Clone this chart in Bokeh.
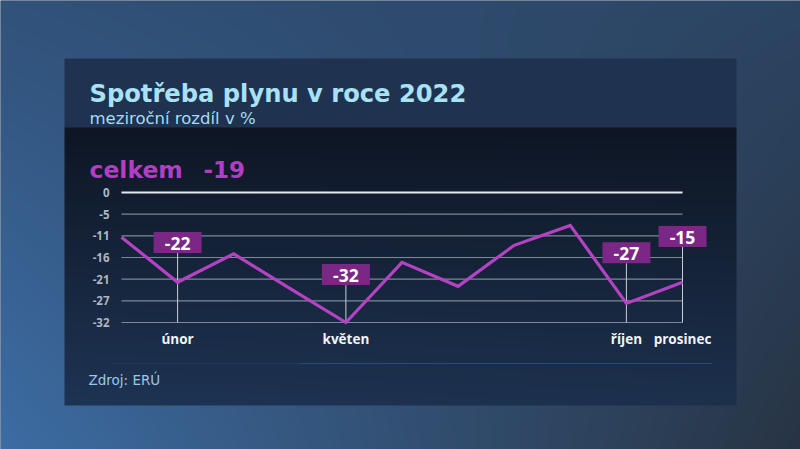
import numpy as np
from bokeh.plotting import figure
from bokeh.models import Range1d
from bokeh.core.properties import value
from bokeh.embed import file_html
from bokeh.resources import INLINE

# ---------------- data ----------------
months = ["leden", "únor", "březen", "duben", "květen", "červen",
          "červenec", "srpen", "září", "říjen", "prosinec"]
change = [-11.0, -22.1, -15.1, -23.6, -32.0, -17.2, -23.1, -13.0, -8.1, -27.3, -22.1]

y_ticks = [0, -5.33, -10.67, -16, -21.33, -26.67, -32]
y_tick_labels = ["0", "-5", "-11", "-16", "-21", "-27", "-32"]

shown_month_idx = [1, 4, 9, 10]
label_idx = [1, 4, 9, 10]
label_text = ["-22", "-32", "-27", "-15"]

title = "Spotřeba plynu v roce 2022"
subtitle = "meziroční rozdíl v %"
total_word = "celkem"
total_value = "-19"
source_text = "Zdroj: ERÚ"

# ---------------- layout helpers (page pixel -> data) ----------------
W, H = 800, 449
X0, PXX = 121.0, 56.1        # pixel x of first month, px per month
Y0, PXY = 192.0, 4.0625      # pixel y of 0 %, px per unit


def dx(px):
    return (px - X0) / PXX


def dy(py):
    return (Y0 - py) / PXY


# ---------------- background image ----------------
def hexrgb(h):
    h = h.lstrip("#")
    return np.array([int(h[i:i + 2], 16) for i in (0, 2, 4)], dtype=float)


yy, xx = np.mgrid[0:H, 0:W]
u = (xx / (W - 1))[..., None]
v = (yy / (H - 1))[..., None]
tl, tr, bl, br = hexrgb("#31527a"), hexrgb("#2c4563"), hexrgb("#3d6da4"), hexrgb("#283444")
img = (1 - u) * (1 - v) * tl + u * (1 - v) * tr + (1 - u) * v * bl + u * v * br

px0, px1 = 64, 736
hy0, hy1 = 58, 127
cy1 = 405
img[hy0:hy1, px0:px1] = hexrgb("#1f3350")
ct, cb = hexrgb("#0e1624"), hexrgb("#1e3454")
t = np.linspace(0, 1, cy1 - hy1)[:, None, None]
ul = np.linspace(0, 1, px1 - px0)[None, :, None]
grad = (1 - t) * ct + t * (cb * (1 - 0.35 * ul) + hexrgb("#1a2a40") * 0.35 * ul)
img[hy1:cy1, px0:px1] = grad

rgba = np.empty((H, W, 4), dtype=np.uint8)
rgba[..., :3] = np.clip(img, 0, 255).astype(np.uint8)
rgba[..., 3] = 255
rgba = rgba[::-1].copy()
bg = rgba.view(np.uint32).reshape(H, W)

# ---------------- figure ----------------
x_start, x_end = dx(0), dx(W)
y_top, y_bot = dy(0), dy(H)

p = figure(width=W, height=H, output_backend="svg", toolbar_location=None,
           x_range=Range1d(x_start, x_end), y_range=Range1d(y_bot, y_top),
           min_border=0, min_border_left=0, min_border_right=0,
           min_border_top=0, min_border_bottom=0)
p.axis.visible = False
p.grid.visible = False
p.outline_line_color = None
p.background_fill_color = "#1f3350"
p.border_fill_color = "#1f3350"

p.image_rgba(image=[bg], x=x_start, y=y_bot, dw=x_end - x_start, dh=y_top - y_bot)

FONT = value("Open Sans")
TFONT = value("DejaVu Sans")

n = len(months)
p.segment(x0=[0] * len(y_ticks[1:]), x1=[n - 1] * len(y_ticks[1:]),
          y0=y_ticks[1:], y1=y_ticks[1:], line_color="#7d8898", line_width=1.2)
p.segment(x0=[0], x1=[n - 1], y0=[y_ticks[0]], y1=[y_ticks[0]],
          line_color="#e6e9ee", line_width=2.2)

p.text(x=[0] * len(y_ticks), y=y_ticks, text=y_tick_labels,
       x_offset=-12, text_align="right", text_baseline="middle",
       text_font=FONT, text_font_size="11.5px", text_font_style="bold",
       text_color="#aeb6c2")

lift = [9.8, 11.8, 12.5, 11.3]
half_box = 10.5 / PXY
lab_x = label_idx
lab_y = [change[i] + lift[k] for k, i in enumerate(label_idx)]
p.segment(x0=lab_x, x1=lab_x, y0=[-32] * len(lab_x), y1=[yv - half_box for yv in lab_y],
          line_color="#c9cdd4", line_width=1)

p.line(x=list(range(n)), y=change, line_color="#b343c2", line_width=3.2,
       line_join="miter")

p.rect(x=lab_x, y=lab_y, width=48, height=21, width_units="screen", height_units="screen",
       fill_color="#7b2786", line_color=None)
p.text(x=lab_x, y=lab_y, text=label_text, text_align="center", text_baseline="middle",
       y_offset=1, text_font=FONT, text_font_size="17.5px", text_font_style="bold",
       text_color="#ffffff")

p.text(x=shown_month_idx, y=[-32] * len(shown_month_idx),
       text=[months[i] for i in shown_month_idx], y_offset=16,
       text_align="center", text_baseline="middle", text_font=FONT,
       text_font_size="13.5px", text_font_style="bold", text_color="#f2f4f7")

p.text(x=[dx(89)], y=[dy(93)], text=[title], text_baseline="alphabetic",
       text_font=TFONT, text_font_size="24.2px", text_font_style="bold", text_color="#a9e1f6")
p.text(x=[dx(89)], y=[dy(118)], text=[subtitle], text_baseline="alphabetic",
       text_font=TFONT, text_font_size="16.5px", text_color="#a6dcf2")
p.text(x=[dx(89)], y=[dy(169)], text=[total_word], text_baseline="alphabetic",
       text_font=TFONT, text_font_size="23.5px", text_font_style="bold", text_color="#b23fc3")
p.text(x=[dx(203)], y=[dy(169)], text=[total_value], text_baseline="alphabetic",
       text_font=TFONT, text_font_size="23px", text_font_style="bold", text_color="#b23fc3")

p.segment(x0=[dx(110)], x1=[dx(300)], y0=[dy(363)], y1=[dy(363)],
          line_color="#23507f", line_alpha=0.35, line_width=1.2)
p.segment(x0=[dx(300)], x1=[dx(712)], y0=[dy(363)], y1=[dy(363)],
          line_color="#24548a", line_alpha=0.8, line_width=1.2)
p.text(x=[dx(88)], y=[dy(379)], text=[source_text], text_baseline="middle",
       text_font=TFONT, text_font_size="13.5px", text_color="#9cc7ea")

open("out.html", "w").write(file_html(p, INLINE))
